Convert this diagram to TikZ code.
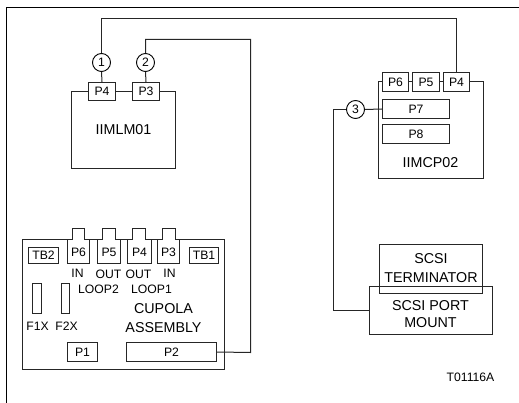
\documentclass[tikz,border=0pt]{standalone}
\usepackage{fontspec}
\setmainfont{Liberation Sans}
\newcommand{\boxat}[6][]{\node[boxn,#1,minimum width=#4-#3,minimum height=#6-#5] (#2) at ({(#3+#4)/2},{(#5+#6)/2})}
\begin{document}
\begin{tikzpicture}[x=1pt,y=-1pt,
  line cap=butt,
  wire/.style={draw=black!85,line width=1pt},
  boxn/.style={draw=black!85,line width=1pt,inner sep=0pt,font=\fontsize{12.2}{14}\selectfont},
  filled/.style={fill=white},
  big/.style={font=\fontsize{14.3}{16}\selectfont,align=center},
  circ/.style={circle,draw=black,line width=0.9pt,fill=white,minimum size=18pt,inner sep=0pt,font=\fontsize{12.2}{14}\selectfont},
  lab/.style={inner sep=0pt,font=\fontsize{12.2}{14}\selectfont},
  biglab/.style={inner sep=0pt,font=\fontsize{14.3}{16}\selectfont},
  tab/.style={draw=black!85,line width=1pt,fill=white}]
\useasboundingbox (0,0) rectangle (519,403);
\begin{scope}[shift={(0.5,0.5)}]
% frame
\coordinate (fa) at (6,403);
\coordinate (fb) at (6,7);
\coordinate (fc) at (519,7);
\draw[black,line width=1.2pt] (fa) -- (fb) -- (fc);
% IIMLM01
\boxat[big]{lm}{71}{175}{91}{168} {IIMLM01};
\boxat[filled]{lmP4}{88}{115}{82}{100} {P4};
\boxat[filled]{lmP3}{132}{159}{82}{100} {P3};
% IIMCP02
\boxat{cp}{378}{483}{81}{178} {};
\node[biglab] (cplab) at (430,162) {IIMCP02};
\boxat[filled]{cpP6}{382}{408}{72}{91} {P6};
\boxat[filled]{cpP5}{412}{439}{72}{91} {P5};
\boxat[filled]{cpP4}{443}{469}{72}{91} {P4};
\boxat[filled]{cpP7}{382}{449}{99}{118} {P7};
\boxat[filled]{cpP8}{382}{449}{124}{143} {P8};
% Cupola
\boxat{cu}{22}{224}{239}{369} {};
\foreach \xa/\xb/\xc/\xd in {67/72/84/89,97/102/115/120,127/132/145/151,157/162/175/179}{
  \draw[tab] (\xa,263.5) -- (\xa,239) -- (\xb,239) -- (\xb,228) -- (\xc,228) -- (\xc,239) -- (\xd,239) -- (\xd,263.5) -- cycle;
}
\node[lab] (cP6) at (78,252) {P6};
\node[lab] (cP5) at (108.5,252) {P5};
\node[lab] (cP4) at (139,252) {P4};
\node[lab] (cP3) at (168,252) {P3};
\boxat{tbii}{28}{58}{247}{263} {TB2};
\boxat{tbi}{189}{218}{247}{263} {TB1};
\boxat{fi}{32}{41}{283}{313} {};
\boxat{fii}{61}{69}{283}{313} {};
\boxat{cuP1}{67}{97}{342}{361} {P1};
\boxat{cuP2}{126}{216}{342}{361} {P2};
\node[lab] (in1) at (77,273) {IN};
\node[lab] (out1) at (108,274) {OUT};
\node[lab] (out2) at (138,274) {OUT};
\node[lab] (in2) at (169,273) {IN};
\node[lab] (loopb) at (98,288.5) {LOOP2};
\node[lab] (loopa) at (151,288.5) {LOOP1};
\node[lab] (fil) at (37,326) {F1X};
\node[lab] (fiil) at (66,326) {F2X};
\node[biglab] (cup) at (163,308) {CUPOLA};
\node[biglab] (ass) at (163,327) {ASSEMBLY};
% SCSI
\boxat{mount}{369}{492}{286}{334} {};
\boxat{term}{379}{482}{244}{293} {};
\node[biglab] (t1) at (430.5,258) {SCSI};
\node[biglab] (t2) at (430.5,277) {TERMINATOR};
\node[biglab] (m1) at (430,305) {SCSI PORT};
\node[biglab] (m2) at (430,322) {MOUNT};
\node[lab] (code) at (470,377) {T01116A};
% circles and connectors
\node[circ] (c1) at (101,62) {1};
\node[circ] (c2) at (145,62) {2};
\node[circ] (c3) at (355,109) {3};
\coordinate (k1) at (101,18);
\coordinate (k2) at (456,18);
\coordinate (k3) at (145,39);
\coordinate (k4) at (250,39);
\coordinate (k5) at (250,352);
\coordinate (k6) at (333,109);
\coordinate (k7) at (333,310);
\draw[wire] (lmP4.north) -- (c1.south);
\draw[wire] (c1.north) -- (k1) -- (k2) -- (cpP4.north -| k2);
\draw[wire] (lmP3.north) -- (c2.south);
\draw[wire] (c2.north) -- (k3) -- (k4) -- (k5) -- (cuP2.east);
\draw[wire] (c3.east) -- (cpP7.west);
\draw[wire] (c3.west) -- (k6) -- (k7) -- (k7 -| mount.west);
\end{scope}
\end{tikzpicture}
\end{document}
